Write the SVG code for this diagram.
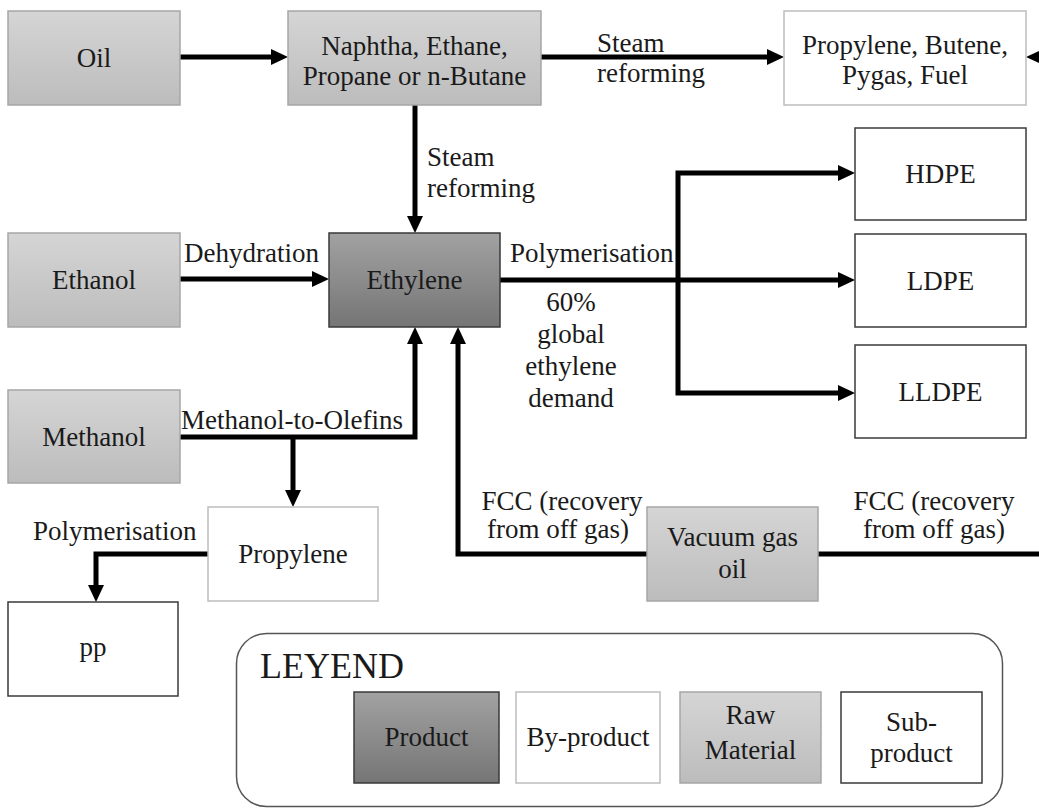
<svg xmlns="http://www.w3.org/2000/svg" width="1039" height="810" viewBox="0 0 1039 810" font-family="'Liberation Serif', 'DejaVu Serif', serif">
<defs>
<linearGradient id="rawGrad" x1="0" y1="0" x2="0" y2="1"><stop offset="0" stop-color="#d5d5d5"/><stop offset="1" stop-color="#bcbcbc"/></linearGradient>
<linearGradient id="prodGrad" x1="0" y1="0" x2="0" y2="1"><stop offset="0" stop-color="#a2a2a2"/><stop offset="1" stop-color="#757575"/></linearGradient>
<marker id="arr" viewBox="0 0 17 16" refX="5" refY="8" markerWidth="17" markerHeight="16" markerUnits="userSpaceOnUse" orient="auto"><path d="M0,0 L17,8 L0,16 z" fill="#000"/></marker>
<style>
.raw{fill:url(#rawGrad);stroke:#a6a6a6;stroke-width:1.5}
.prod{fill:url(#prodGrad);stroke:#3a3a3a;stroke-width:1.5}
.by{fill:#fff;stroke:#bdbdbd;stroke-width:1.5}
.sub{fill:#fff;stroke:#3a3a3a;stroke-width:1.5}
text{font-family:'Liberation Serif','DejaVu Serif',serif;font-size:27px;fill:#1a1a1a}
.c{text-anchor:middle}
.conn path{fill:none;stroke:#000;stroke-width:5;stroke-linejoin:miter}
</style>
</defs>
<rect width="1039" height="810" fill="#fff"/>
<g class="conn" id="connectors">
<path d="M180,57 H276" marker-end="url(#arr)"/>
<path d="M541,57 H772" marker-end="url(#arr)"/>
<path d="M1070,57 H1038" marker-end="url(#arr)"/>
<path d="M415,105 V221" marker-end="url(#arr)"/>
<path d="M180,279 H317" marker-end="url(#arr)"/>
<path d="M500,280 H843" marker-end="url(#arr)"/>
<path d="M678,282 V173 H843" marker-end="url(#arr)"/>
<path d="M678,278 V393 H843" marker-end="url(#arr)"/>
<path d="M180,437 H415 V339" marker-end="url(#arr)"/>
<path d="M293,437 V495" marker-end="url(#arr)"/>
<path d="M647,554 H458 V339" marker-end="url(#arr)"/>
<path d="M818,554 H1045"/>
<path d="M208,554 H96 V590" marker-end="url(#arr)"/>
</g>
<g id="labels">
<text x="597" y="52">Steam</text>
<text x="597" y="82">reforming</text>
<text x="427" y="166">Steam</text>
<text x="427" y="197">reforming</text>
<text x="184" y="262">Dehydration</text>
<text x="510" y="262">Polymerisation</text>
<text class="c" x="571" y="311">60%</text>
<text class="c" x="571" y="343">global</text>
<text class="c" x="571" y="375">ethylene</text>
<text class="c" x="571" y="407">demand</text>
<text x="181" y="429">Methanol-to-Olefins</text>
<text x="33" y="540">Polymerisation</text>
<text class="c" x="562" y="510">FCC (recovery</text>
<text class="c" x="558" y="538">from off gas)</text>
<text class="c" x="934" y="510">FCC (recovery</text>
<text class="c" x="934" y="538">from off gas)</text>
</g>
<g id="oil"><rect class="raw" x="8" y="11" width="172" height="94"/><text class="c" x="94" y="67">Oil</text></g>
<g id="naphtha"><rect class="raw" x="288" y="11" width="253" height="94"/><text class="c" x="414.5" y="55">Naphtha, Ethane,</text><text class="c" x="414.5" y="85">Propane or n-Butane</text></g>
<g id="byproducts"><rect class="by" x="784" y="11" width="242" height="94"/><text class="c" x="905" y="54">Propylene, Butene,</text><text class="c" x="905" y="84">Pygas, Fuel</text></g>
<g id="hdpe"><rect class="sub" x="855" y="128" width="171" height="92"/><text class="c" x="940.5" y="183">HDPE</text></g>
<g id="ethanol"><rect class="raw" x="8" y="233" width="172" height="94"/><text class="c" x="94" y="289">Ethanol</text></g>
<g id="ethylene"><rect class="prod" x="329" y="233" width="171" height="94"/><text class="c" x="414.5" y="289">Ethylene</text></g>
<g id="ldpe"><rect class="sub" x="855" y="234" width="171" height="93"/><text class="c" x="940.5" y="290">LDPE</text></g>
<g id="lldpe"><rect class="sub" x="855" y="345" width="171" height="93"/><text class="c" x="940.5" y="401">LLDPE</text></g>
<g id="methanol"><rect class="raw" x="8" y="390" width="172" height="93"/><text class="c" x="94" y="446">Methanol</text></g>
<g id="propylene"><rect class="by" x="208" y="507" width="170" height="94"/><text class="c" x="293" y="563">Propylene</text></g>
<g id="vgo"><rect class="raw" x="647" y="507" width="171" height="94"/><text class="c" x="732.5" y="546">Vacuum gas</text><text class="c" x="732.5" y="578">oil</text></g>
<g id="pp"><rect class="sub" x="8" y="602" width="170" height="94"/><text class="c" x="93" y="656">pp</text></g>
<g id="legend">
<rect x="236.5" y="633.5" width="766" height="173" rx="30" fill="#fff" stroke="#555" stroke-width="1.5"/>
<text x="260" y="678" style="font-size:36px">LEYEND</text>
<rect class="prod" x="354" y="692" width="145" height="91"/><text class="c" x="426.5" y="746">Product</text>
<rect class="by" x="516" y="692" width="144" height="91"/><text class="c" x="588" y="746">By-product</text>
<rect class="raw" x="680" y="692" width="141" height="91"/><text class="c" x="750.5" y="724">Raw</text><text class="c" x="750.5" y="759">Material</text>
<rect class="sub" x="841" y="692" width="141" height="91"/><text class="c" x="911.5" y="731">Sub-</text><text class="c" x="911.5" y="762">product</text>
</g>
</svg>
